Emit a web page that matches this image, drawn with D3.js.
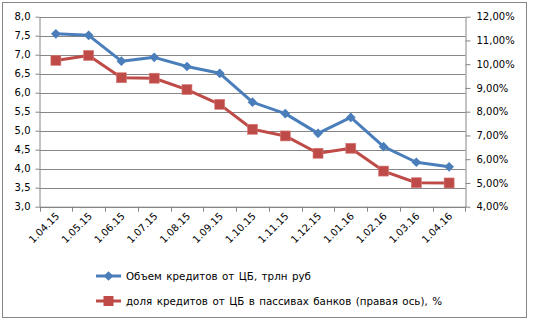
<!DOCTYPE html>
<html><head><meta charset="utf-8">
<script src="https://cdn.jsdelivr.net/npm/d3@7"></script>
<style>body{margin:0;background:#fff}svg{display:block}text{font-family:"DejaVu Sans",sans-serif;font-size:10px;fill:#000}</style>
</head><body><svg id="c" width="533" height="326"></svg>
<script>
const categories = ["1.04.15","1.05.15","1.06.15","1.07.15","1.08.15","1.09.15","1.10.15","1.11.15","1.12.15","1.01.16","1.02.16","1.03.16","1.04.16"];
const credits = [7.55,7.51,6.83,6.93,6.69,6.51,5.75,5.45,4.93,5.35,4.58,4.17,4.05];
const share = [10.16,10.37,9.43,9.41,8.93,8.31,7.26,6.98,6.25,6.46,5.50,5.01,5.00];
const leftTicks = [3.0,3.5,4.0,4.5,5.0,5.5,6.0,6.5,7.0,7.5,8.0];
const rightTicks = [4,5,6,7,8,9,10,11,12];
const seriesNames = ["Объем кредитов от ЦБ, трлн руб","доля кредитов от ЦБ в пассивах банков (правая ось), %"];

const svg = d3.select("#c");
const L = 39.5, R = 465.5, T = 16.7, B = 206.7;
const grid = "#868686";
svg.append("rect").attr("x",2.5).attr("y",2.5).attr("width",524).attr("height",315).attr("fill","#fff").attr("stroke",grid);

const x = d3.scaleBand().domain(categories).range([L,R]);
const yL = d3.scaleLinear().domain([3,8]).range([B,T]);
const yR = d3.scaleLinear().domain([4,12]).range([B,T]);

svg.append("g").selectAll("line").data(leftTicks).join("line")
  .attr("x1",L).attr("x2",R).attr("y1",d=>Math.round(yL(d))+0.5).attr("y2",d=>Math.round(yL(d))+0.5)
  .attr("stroke",grid);

const fmt1 = d=>d.toFixed(1).replace(".",",");
const fmtP = d=>d.toFixed(2).replace(".",",")+"%";

const gl = svg.append("g").attr("transform",`translate(${L},0)`)
  .call(d3.axisLeft(yL).tickValues(leftTicks).tickFormat(fmt1).tickSize(4).tickPadding(5).tickSizeOuter(0));
const gr = svg.append("g").attr("transform",`translate(${R},0)`)
  .call(d3.axisRight(yR).tickValues(rightTicks).tickFormat(fmtP).tickSize(5).tickPadding(6).tickSizeOuter(0));
const gx = svg.append("g").attr("transform",`translate(0,${B})`)
  .call(d3.axisBottom(x).tickSize(0).tickSizeOuter(0).tickFormat(""));
gx.selectAll(".bt").data(categories.concat(["__end"])).join("line").attr("class","bt")
  .attr("x1",(d,i)=>Math.round(L+i*x.step())+0.5).attr("x2",(d,i)=>Math.round(L+i*x.step())+0.5)
  .attr("y1",0).attr("y2",5).attr("stroke",grid);
gx.selectAll(".lbl").data(categories).join("text").attr("class","lbl")
  .attr("text-anchor","end")
  .attr("transform",d=>`translate(${x(d)+x.bandwidth()/2+4},${10}) rotate(-45)`)
  .text(d=>d);
[gl,gr,gx].forEach(g=>{g.selectAll(".domain").attr("stroke",grid);g.selectAll(".tick line").attr("stroke",grid);g.selectAll("text").attr("fill","#000").style("font-family","DejaVu Sans").style("font-size","10px");});

const blue = "#4A7EBB", red = "#BE4B48";
const cx = d=>x(d)+x.bandwidth()/2;
const line1 = d3.line().x((d,i)=>cx(categories[i])).y(d=>yL(d));
const line2 = d3.line().x((d,i)=>cx(categories[i])).y(d=>yR(d));
svg.append("path").attr("d",line2(share)).attr("fill","none").attr("stroke",red).attr("stroke-width",3).attr("stroke-linejoin","round");
svg.append("g").selectAll("rect").data(share).join("rect")
  .attr("x",(d,i)=>cx(categories[i])-5).attr("y",d=>yR(d)-5).attr("width",10).attr("height",10).attr("fill",red).attr("stroke","#d77c7a").attr("stroke-width",0.6);
svg.append("path").attr("d",line1(credits)).attr("fill","none").attr("stroke",blue).attr("stroke-width",3).attr("stroke-linejoin","round");
const dia = d3.symbol().type(d3.symbolDiamond2).size(60);
svg.append("g").selectAll("path").data(credits).join("path")
  .attr("d",dia).attr("transform",(d,i)=>`translate(${cx(categories[i])},${yL(d)})`).attr("fill",blue);

const lg = svg.append("g");
const ly = [276, 301];
lg.append("line").attr("x1",96).attr("x2",121).attr("y1",ly[0]).attr("y2",ly[0]).attr("stroke",blue).attr("stroke-width",3);
lg.append("path").attr("d",dia).attr("transform",`translate(108.5,${ly[0]})`).attr("fill",blue);
lg.append("line").attr("x1",96).attr("x2",121).attr("y1",ly[1]).attr("y2",ly[1]).attr("stroke",red).attr("stroke-width",3);
lg.append("rect").attr("x",103.5).attr("y",ly[1]-5).attr("width",10).attr("height",10).attr("fill",red);
lg.selectAll("text").data(seriesNames).join("text").attr("x",126).attr("y",(d,i)=>ly[i]+4)
  .style("font-size","10.3px").style("word-spacing","1.2px").text(d=>d);
</script></body></html>
